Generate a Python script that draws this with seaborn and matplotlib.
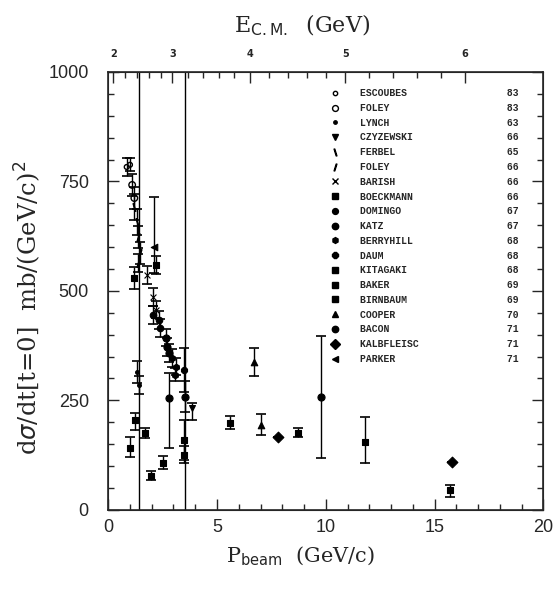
import numpy as np
import pandas as pd
import seaborn as sns
import matplotlib.pyplot as plt
from matplotlib.lines import Line2D

# experiments shown in the legend (name, year)
exp_names = ["ESCOUBES", "FOLEY", "LYNCH", "CZYZEWSKI", "FERBEL", "FOLEY",
             "BARISH", "BOECKMANN", "DOMINGO", "KATZ", "BERRYHILL", "DAUM",
             "KITAGAKI", "BAKER", "BIRNBAUM", "COOPER", "BACON",
             "KALBFLEISC", "PARKER"]
exp_years = ["83", "83", "63", "66", "65", "66", "66", "66", "67", "67",
             "68", "68", "68", "69", "69", "70", "71", "71", "71"]

# measured points: experiment index, beam momentum, dsigma/dt, errors (down, up)
pt_exp = [0, 0, 1, 1, 2, 2, 3, 4, 4, 5, 5, 5,
          6, 6, 6, 7, 7, 7, 7, 7, 7, 8, 8, 8,
          9, 9, 9, 10, 10, 10, 11, 12, 12, 12, 13, 13,
          14, 14, 15, 15, 16, 16, 16, 17, 17, 18]
pt_p = [0.85, 1.0, 1.1, 1.2, 1.3, 1.4, 3.86, 1.2, 1.3, 1.36, 1.45, 1.36,
        1.8, 2.05, 2.2, 5.6, 8.7, 1.95, 2.5, 11.8, 15.7, 2.05, 2.35, 2.4,
        2.65, 2.7, 2.8, 2.95, 3.1, 3.05, 3.5, 1.25, 1.68, 1.0, 3.5, 3.5,
        1.2, 2.2, 6.7, 7.0, 9.8, 2.8, 3.55, 7.8, 15.8, 2.1]
pt_y = [783, 788, 742, 712, 315, 285, 232, 692, 658, 623, 587, 564,
        536, 486, 457, 199, 176, 78, 107, 155, 45, 445, 434, 415,
        393, 372, 358, 347, 327, 308, 320, 205, 176, 142, 160, 126,
        530, 559, 338, 194, 258, 256, 258, 167, 110, 600]
err_lo = [20, 15, 25, 25, 25, 20, 27, 30, 30, 25, 25, 20,
          20, 20, 20, 15, 10, 10, 15, 48, 15, 20, 20, 20,
          20, 20, 20, 20, 20, 15, 50, 22, 12, 21, 46, 20,
          25, 20, 32, 23, 139, 114, 35, 0, 0, 60]
err_hi = [20, 15, 25, 25, 25, 20, 12, 30, 30, 25, 25, 20,
          20, 20, 20, 15, 10, 10, 15, 57, 12, 20, 20, 20,
          20, 20, 20, 20, 20, 15, 50, 15, 11, 25, 45, 20,
          25, 20, 32, 25, 139, 57, 35, 0, 0, 115]

# error bars running off the top of the frame
offscale_p = [1.4, 3.55]

# centre-of-mass energy scale on the top axis
ecm_values = [2, 3, 4, 5, 6]
ecm_pos = [0.23, 2.95, 6.5, 10.9, 16.4]

markers = ["o", "o", ".", "v", r"$\backslash$", "$/$", "x", "s", "o", "o",
           "h", "8", "s", "s", "s", "^", "o", "D", "<"]
msizes = [12, 22, 30, 18, 30, 30, 18, 22, 22, 26, 22, 22, 24, 24, 24, 22, 26, 30, 22]
open_mk = [True, True] + [False] * 17

df = pd.DataFrame({"exp": pt_exp, "p": pt_p, "y": pt_y, "lo": err_lo, "hi": err_hi})

sns.set_style("ticks")
plt.rcParams["font.family"] = ["DejaVu Sans"]

fig = plt.figure(figsize=(5.55, 5.90), dpi=100)
ax = fig.add_axes([0.195, 0.136, 0.784, 0.742])

for p in offscale_p:
    ax.axvline(p, color="black", lw=1.0)

ax.errorbar(df["p"], df["y"], yerr=[df["lo"], df["hi"]], fmt="none",
            ecolor="black", elinewidth=1.0, capsize=3.5, capthick=1.2)

for i, m in enumerate(markers):
    sub = df[df["exp"] == i]
    if sub.empty:
        continue
    if open_mk[i]:
        sns.scatterplot(x=sub["p"], y=sub["y"], marker=m, s=msizes[i], ax=ax,
                        facecolor="none", edgecolor="black", linewidth=1.0)
    else:
        sns.scatterplot(x=sub["p"], y=sub["y"], marker=m, s=msizes[i], ax=ax,
                        color="black", edgecolor="black", linewidth=0.8)

ax.set_xlim(0, 20)
ax.set_ylim(0, 1000)
ax.set_xticks([0, 5, 10, 15, 20])
ax.set_xticks(np.arange(0, 21, 1), minor=True)
ax.set_yticks([0, 250, 500, 750, 1000])
ax.set_yticks(np.arange(0, 1001, 50), minor=True)
ax.tick_params(which="both", direction="in", right=True, width=1.0, labelsize=13)
ax.tick_params(which="major", length=8)
ax.tick_params(which="minor", length=4)
ax.tick_params(axis="y", pad=14)
ax.tick_params(axis="x", pad=7)
for lab in ax.get_xticklabels() + ax.get_yticklabels():
    lab.set_family("Liberation Sans")
ax.set_xlabel(r"P$_{\rm beam}$  (GeV/c)", family="DejaVu Serif", fontsize=15)
ax.xaxis.set_label_coords(0.441, -0.08)
ax.set_ylabel(r"d$\sigma$/dt[t=0]  mb/(GeV/c)$^2$", family="DejaVu Serif", fontsize=17.5)
ax.yaxis.set_label_coords(-0.15, 0.461)
for s in ax.spines.values():
    s.set_linewidth(1.2)

ax2 = ax.twiny()
ax2.set_xlim(0, 20)
ax2.set_xticks(ecm_pos, [str(v) for v in ecm_values])
ax2.set_xticks(np.interp(np.arange(2, 6.01, 0.2), ecm_values, ecm_pos), minor=True)
ax2.tick_params(which="both", direction="in", width=1.0, labelsize=7, pad=9)
ax2.tick_params(which="major", length=8)
ax2.tick_params(which="minor", length=4)
for lab in ax2.get_xticklabels():
    lab.set_fontweight("bold")
ax2.set_xlabel(r"E$_{\rm C.M.}$  (GeV)", family="DejaVu Serif", fontsize=16)
ax2.xaxis.set_label_coords(0.446, 1.09)

handles = []
labels = []
for i, m in enumerate(markers):
    handles.append(Line2D([], [], marker=m, linestyle="none", color="black",
                          markerfacecolor="none" if open_mk[i] else "black",
                          markersize=np.sqrt(msizes[i]) * 0.9))
    labels.append(f"{exp_names[i]:<25}{exp_years[i]}")
ax.legend(handles, labels, loc="upper left", bbox_to_anchor=(0.51, 0.963),
          frameon=False, prop={"family": "Liberation Mono", "weight": "bold", "size": 7},
          handlelength=1.0, handletextpad=2.1, labelspacing=0.49,
          borderpad=0, borderaxespad=0)

fig.savefig("out.png", dpi=100)
